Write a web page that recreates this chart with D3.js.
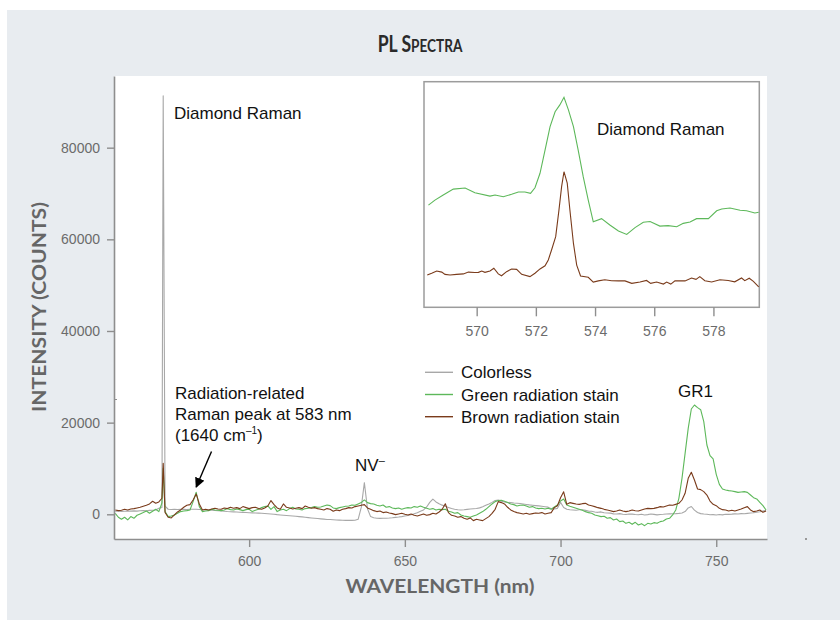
<!DOCTYPE html>
<html><head><meta charset="utf-8">
<script src="https://cdn.jsdelivr.net/npm/d3@7/dist/d3.min.js"></script>
<style>body{margin:0;background:#fff;} svg{display:block;}</style>
</head><body>
<svg id="chart" width="840" height="620"></svg>
<script>
// ---------- DATA ----------
const wavelength = [
  557,558,559,560,561,562,563,564,565,566,
  567,568,569,570,571,572,572.4,573,574,575,576,
  577,578,579,580,581,582,583,584,585,586,
  587,588,589,590,591,592,593,594,595,596,
  597,598,599,600,601,602,603,604,605,606,
  607,608,609,610,611,612,613,614,615,616,
  617,618,619,620,621,622,623,624,625,626,
  627,628,629,630,631,632,633,634,635,636,
  637,638,639,640,641,642,643,644,645,646,
  647,648,649,650,651,652,653,654,655,656,
  657,658,659,660,661,662,663,664,665,666,
  667,668,669,670,671,672,673,674,675,676,
  677,678,679,680,681,682,683,684,685,686,
  687,688,689,690,691,692,693,694,695,696,
  697,698,699,700,701,702,703,704,705,706,
  707,708,709,710,711,712,713,714,715,716,
  717,718,719,720,721,722,723,724,725,726,
  727,728,729,730,731,732,733,734,735,736,
  737,738,739,740,741,742,743,744,745,746,
  747,748,749,750,751,752,753,754,755,756,
  757,758,759,760,761,762,763,764,765,766
];
const colorless = [
  650,700,620,680,720,690,750,700,760,820,
  780,850,900,950,1300,1500,91300,1800,1100,1050,1080,
  1050,1080,1100,1060,1090,1100,1090,1050,1000,960,
  920,870,820,780,720,660,600,560,520,490,
  450,420,380,350,320,290,260,220,180,120,
  60,0,-80,-140,-200,-260,-320,-380,-440,-500,
  -570,-640,-720,-800,-870,-930,-1000,-1060,-1120,-1150,
  -1200,-1250,-1280,-1300,-1320,-1330,-1320,-1300,-1100,1500,
  6900,1200,-500,-750,-850,-880,-870,-860,-820,-760,
  -680,-600,-500,-380,-250,-80,120,350,650,950,
  1600,2600,3300,2700,2300,2000,1750,1500,1250,1100,
  1000,950,1000,1080,1150,1200,1250,1400,1650,1950,
  2250,2600,3000,3100,2850,2700,2600,2550,2450,2400,
  2350,2250,2150,2050,1980,1900,1830,1750,1650,1560,
  1200,1150,1300,2600,1500,1100,1000,950,900,980,
  1000,850,700,650,500,430,520,350,300,250,
  100,60,150,0,-50,80,30,-60,-100,0,
  -150,-80,50,-20,-120,-30,0,50,100,120,
  150,200,300,600,1400,1700,900,400,150,50,
  0,-100,-80,-150,-50,-120,0,-20,30,100,
  60,150,120,200,280,350,450,560,700,850
];
const greenStain = [
  220,-650,-1080,-650,-1230,-500,-870,-210,80,370,
  730,220,660,1090,590,2500,10040,600,-500,-360,-140,
  220,590,730,800,950,2770,4810,1680,590,730,
  800,1090,950,880,800,950,1240,1020,950,1170,
  1020,800,1020,1090,590,880,1090,1460,1680,1820,
  1090,1680,590,950,1090,800,1240,1530,1170,1090,
  950,1240,1310,1460,1680,1530,1600,1820,2040,1900,
  1390,1240,1460,1600,1750,1820,2040,1970,2260,2550,
  3130,2550,2330,2260,1970,1820,2040,1530,1680,1390,
  1240,1390,1090,1310,1460,1390,1680,1530,1820,1530,
  1310,1090,1240,950,1090,1020,1090,660,510,220,
  370,-140,-360,-500,-650,-360,-140,220,590,1090,
  1680,2260,2770,2990,3060,2840,2550,2260,2110,1820,
  1970,2040,1820,1530,1680,1390,1240,1310,1170,1310,
  1090,1590,2030,2900,3340,2030,1740,1520,1300,1080,
  870,580,360,210,-150,-300,-510,-440,-870,-730,
  -1240,-1020,-1600,-1460,-1970,-1750,-2190,-1750,-2330,-2040,
  -2480,-1970,-2120,-1820,-1970,-1600,-1460,-1020,-870,-150,
  940,3480,7850,13300,18760,22980,23850,23270,22830,20210,
  15120,12790,12070,8720,6540,5520,5300,5160,5080,4940,
  4790,4870,4940,4790,4210,3630,3340,2610,1880,940
];
const brownStain = [
  950,800,870,1090,950,1170,1240,1390,1530,1750,
  1970,2260,2840,2400,2690,3500,11130,400,-650,-790,-140,
  510,950,1530,1970,2110,3130,4440,2260,950,1090,
  950,1170,1310,1170,1090,1390,1240,1530,1310,1460,
  1240,1680,1460,1240,1460,1530,1240,1090,1390,1820,
  2990,2110,1390,1090,2260,1530,1390,1170,1310,1460,
  1240,1820,1530,1310,1460,1240,1090,950,1240,1090,
  660,950,800,1090,1240,1460,1390,1680,1820,1970,
  2110,1390,1090,800,590,730,370,510,300,150,
  -70,80,220,0,-140,80,-220,-360,-140,80,
  -220,-70,220,80,510,1100,2300,370,-220,-360,
  -650,-500,-870,-1090,-790,-1380,-1090,-1230,-1380,-940,
  -500,220,1090,2770,2550,2260,1530,950,590,370,
  220,80,220,0,150,300,220,370,80,220,
  370,1450,1880,3600,4900,2170,2540,2390,2250,2170,
  2320,2390,2030,1880,1670,1450,1300,1080,940,790,
  580,720,940,720,580,720,940,790,720,940,
  1160,1300,1230,1300,1450,1670,1590,1820,2030,1960,
  2170,2390,3120,4580,7850,9160,7480,5520,5380,4940,
  4210,2900,2170,1880,1300,1010,940,720,870,720,
  940,1160,1450,1670,940,580,720,940,430,720
];
// inset (diamond Raman region, arbitrary offset units)
const insetGreenNm = [568.37,568.59,568.87,569.21,569.61,569.94,570.45,570.62,570.90,571.18,571.41,571.63,571.82,571.97,572.14,572.31,572.48,572.65,572.81,572.95,573.10,573.27,573.43,573.60,573.77,573.94,574.22,574.50,574.79,575.07,575.35,575.63,575.86,576.19,576.47,576.76,576.98,577.21,577.43,577.83,578.11,578.28,578.56,578.90,579.12,579.40,579.53];
const insetGreen = [45.3,47.5,49.8,52.4,52.9,50.8,49.3,49.8,49.0,50.1,51.1,51.1,50.5,53.0,59.4,69.7,80.1,86.7,89.7,93.1,87.5,80.1,69.7,57.9,47.5,37.9,39.3,36.5,33.8,32.3,35.3,37.7,38.0,36.0,36.2,35.7,37.2,37.8,39.3,39.3,42.8,43.6,44.0,43.0,42.8,41.8,42.1];
const insetBrownNm = [568.33,568.48,568.65,568.82,568.93,569.10,569.32,569.55,569.72,569.94,570.06,570.17,570.28,570.45,570.58,570.73,570.84,571.01,571.18,571.35,571.52,571.80,571.97,572.14,572.31,572.42,572.53,572.67,572.78,572.87,572.95,573.06,573.15,573.27,573.38,573.51,573.77,573.94,574.11,574.33,574.56,574.79,575.01,575.24,575.52,575.74,575.88,576.08,576.31,576.42,576.56,576.70,577.04,577.26,577.41,577.54,577.71,577.94,578.22,578.50,578.72,578.95,579.06,579.21,579.35,579.53];
const insetBrown = [14.3,15.1,16.1,15.6,14.6,14.3,14.6,14.8,15.6,15.4,15.5,16.1,15.5,16.1,17.3,14.8,14.0,15.8,17.0,16.8,14.6,13.6,15.1,17.0,18.4,21.0,25.4,31.3,43.1,53.5,60.1,55.0,43.1,28.3,18.7,13.9,13.3,11.2,11.7,12.2,11.8,11.7,11.7,10.6,11.2,11.9,10.6,11.2,10.3,11.2,10.3,11.7,11.7,13.0,12.4,13.6,11.8,11.2,12.2,11.9,11.3,13.0,11.8,12.9,11.5,9.1];

const seriesNames = ["Colorless", "Green radiation stain", "Brown radiation stain"];
const yTickValues = [0, 20000, 40000, 60000, 80000];
const xTickValues = [600, 650, 700, 750];
const insetTickValues = [570, 572, 574, 576, 578];

// ---------- STYLE ----------
const COLORS = ["#a8a8a8", "#5db85a", "#7a3b1b"];
const AXIS = "#8e8e8e";
const LABEL = "#6b6b6b";
const SANS = "'Liberation Sans', Arial, Helvetica, sans-serif";
const TITLEF = "Lato, 'Open Sans', sans-serif";

const svg = d3.select("#chart");
svg.append("rect").attr("x",0).attr("y",0).attr("width",840).attr("height",620).attr("fill","#fff");
svg.append("rect").attr("x",7).attr("y",10).attr("width",833).attr("height",610).attr("fill","#e8ecf0");

const P = {l:114, r:767, t:76, b:539};
svg.append("rect").attr("x",P.l).attr("y",P.t).attr("width",P.r-P.l).attr("height",P.b-P.t).attr("fill","#fff");

const x = d3.scaleLinear().domain([556.6, 766.3]).range([P.l, P.r]);
const y = d3.scaleLinear().domain([-5390, 95640]).range([P.b, P.t]);

svg.append("clipPath").attr("id","plotclip").append("rect")
  .attr("x",P.l).attr("y",P.t).attr("width",P.r-P.l).attr("height",P.b-P.t);

const line = d3.line().x(d => x(d[0])).y(d => y(d[1]));
const mainSeries = [colorless, greenStain, brownStain];
const gLines = svg.append("g").attr("clip-path","url(#plotclip)");
mainSeries.forEach((vals, i) => {
  gLines.append("path").datum(d3.zip(wavelength, vals))
    .attr("d", line).attr("fill","none").attr("stroke", COLORS[i])
    .attr("stroke-width", 1.1).attr("stroke-linejoin","round");
});

// axes
function styleAxis(g){
  g.selectAll(".domain").attr("stroke",AXIS).attr("stroke-width",1.6);
  g.selectAll(".tick line").attr("stroke",AXIS).attr("stroke-width",1.4);
  g.selectAll(".tick text").attr("fill",LABEL).attr("font-family",SANS).attr("font-size",14);
}
svg.append("g").attr("transform",`translate(0,${P.b})`)
  .call(d3.axisBottom(x).tickValues(xTickValues).tickSize(8).tickSizeOuter(0).tickPadding(9).tickFormat(d3.format("d")))
  .call(styleAxis);
svg.append("g").attr("transform",`translate(${P.l},0)`)
  .call(d3.axisLeft(y).tickValues(yTickValues).tickSize(7).tickSizeOuter(0).tickPadding(7).tickFormat(d3.format("d")))
  .call(styleAxis);

// small stray marks in the original figure
svg.append("line").attr("x1",P.l).attr("x2",P.l+3).attr("y1",399.5).attr("y2",399.5).attr("stroke",AXIS).attr("stroke-width",1);
svg.append("rect").attr("x",805).attr("y",538).attr("width",2).attr("height",2).attr("fill","#999");

// ---------- INSET ----------
const I = {l:424, r:759.3, t:81.7, b:307.3};
const ix = d3.scaleLinear().domain([568.22, 579.55]).range([I.l, I.r]);
const iy = d3.scaleLinear().domain([0, 100]).range([I.b, I.t]);
svg.append("rect").attr("x",I.l).attr("y",I.t).attr("width",I.r-I.l).attr("height",I.b-I.t)
  .attr("fill","#fff").attr("stroke","#9c9c9c").attr("stroke-width",1.5);
svg.append("clipPath").attr("id","insetclip").append("rect")
  .attr("x",I.l).attr("y",I.t).attr("width",I.r-I.l).attr("height",I.b-I.t);
const iline = d3.line().x(d => ix(d[0])).y(d => iy(d[1]));
const gi = svg.append("g").attr("clip-path","url(#insetclip)");
gi.append("path").datum(d3.zip(insetGreenNm, insetGreen)).attr("d", iline)
  .attr("fill","none").attr("stroke",COLORS[1]).attr("stroke-width",1.1);
gi.append("path").datum(d3.zip(insetBrownNm, insetBrown)).attr("d", iline)
  .attr("fill","none").attr("stroke",COLORS[2]).attr("stroke-width",1.1);
const ixAxis = svg.append("g").attr("transform",`translate(0,${I.b})`)
  .call(d3.axisBottom(ix).tickValues(insetTickValues).tickSize(9).tickSizeOuter(0).tickPadding(10).tickFormat(d3.format("d")))
  .call(styleAxis);
ixAxis.select(".domain").remove();
svg.append("text").attr("x",597).attr("y",135).attr("font-family",SANS).attr("font-size",17)
  .attr("fill","#111").text("Diamond Raman");

// ---------- LEGEND ----------
const leg = svg.append("g");
seriesNames.forEach((name, i) => {
  const yy = 372.3 + 22.2*i;
  leg.append("line").attr("x1",425).attr("x2",453).attr("y1",yy).attr("y2",yy)
    .attr("stroke",COLORS[i]).attr("stroke-width",1.4);
  leg.append("text").attr("x",461).attr("y",yy+6).attr("font-family",SANS).attr("font-size",17)
    .attr("fill","#111").text(name);
});

// ---------- ANNOTATIONS ----------
const ann = svg.append("g").attr("font-family",SANS).attr("font-size",17).attr("fill","#111");
ann.append("text").attr("x",174).attr("y",118.5).text("Diamond Raman");
ann.append("text").attr("x",175).attr("y",398.5).text("Radiation-related");
ann.append("text").attr("x",175).attr("y",419.5).text("Raman peak at 583 nm");
const t3 = ann.append("text").attr("x",175).attr("y",440.5);
t3.append("tspan").text("(1640 cm");
t3.append("tspan").attr("font-size",10).attr("dy",-7).text("–1");
t3.append("tspan").attr("dy",7).text(")");
const nv = ann.append("text").attr("x",355).attr("y",470.5);
nv.append("tspan").text("NV");
nv.append("tspan").attr("font-size",11).attr("dy",-7).text("–");
ann.append("text").attr("x",678).attr("y",397).text("GR1");

svg.append("defs").append("marker").attr("id","arrowhead")
  .attr("viewBox","0 0 10 10").attr("refX",9).attr("refY",5)
  .attr("markerWidth",10).attr("markerHeight",10).attr("markerUnits","userSpaceOnUse")
  .attr("orient","auto")
  .append("path").attr("d","M0,0 L10,5 L0,10 z").attr("fill","#000");
svg.append("line").attr("x1",211.5).attr("y1",451.5).attr("x2",196.2).attr("y2",487)
  .attr("stroke","#000").attr("stroke-width",1.4).attr("marker-end","url(#arrowhead)");

// ---------- TITLES ----------
const title = svg.append("text").attr("transform","translate(420,52) scale(0.8,1)")
  .attr("text-anchor","middle")
  .attr("font-family",TITLEF).attr("font-weight",700).attr("fill","#2a2a2a");
title.append("tspan").attr("font-size",22).text("PL S");
title.append("tspan").attr("font-size",17).text("PECTRA");

svg.append("text").attr("x",440).attr("y",593).attr("text-anchor","middle")
  .attr("font-family",TITLEF).attr("font-weight",700).attr("font-size",18).attr("fill","#666")
  .attr("textLength",189).attr("lengthAdjust","spacingAndGlyphs").text("WAVELENGTH (nm)");
svg.append("text").attr("transform","translate(46,307) rotate(-90)").attr("text-anchor","middle")
  .attr("font-family",TITLEF).attr("font-weight",700).attr("font-size",18).attr("fill","#666")
  .attr("textLength",210).attr("lengthAdjust","spacingAndGlyphs").text("INTENSITY (COUNTS)");
</script>
</body></html>
